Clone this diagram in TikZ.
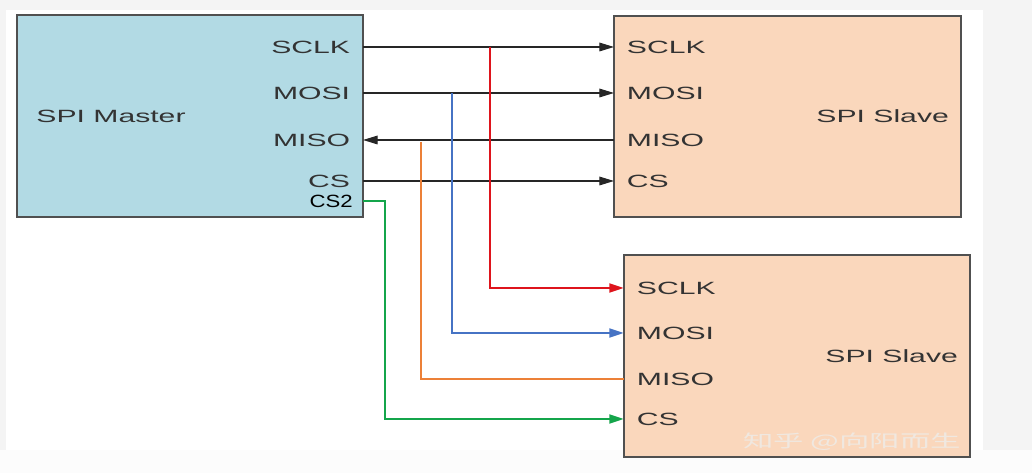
\documentclass[tikz,border=0pt]{standalone}
\usepackage{fontspec}
\newfontfamily\pinfont[FakeStretch=1.7]{Liberation Sans}
\newfontfamily\narrowfont[FakeStretch=1.25]{Liberation Sans}
\newfontfamily\cjk[FakeStretch=1.75]{Noto Sans CJK SC}
\usetikzlibrary{arrows.meta,positioning}
\usepackage{xcolor}
\definecolor{masterblue}{RGB}{178,218,228}
\definecolor{slavepeach}{RGB}{250,215,188}
\definecolor{edgegray}{RGB}{80,80,80}
\definecolor{wirered}{RGB}{222,20,28}
\definecolor{wireblue}{RGB}{70,115,196}
\definecolor{wireorange}{RGB}{236,128,56}
\definecolor{wiregreen}{RGB}{20,165,75}
\definecolor{framegray}{RGB}{244,244,244}
\definecolor{markgray}{RGB}{240,232,224}

\begin{document}
\begin{tikzpicture}[
    x=0.75pt, y=-0.75pt,
    >={Triangle[length=11pt,width=6.5pt]},
    chip/.style={rectangle, draw=edgegray, line width=1.2pt, minimum width=259.5pt, minimum height=151.5pt, inner sep=0pt},
    pinlabel/.style={font=\pinfont\fontsize{13.3}{15}\selectfont, text=black!80, inner xsep=9.5pt, inner ysep=0pt},
    chipname/.style={font=\pinfont\fontsize{13.3}{15}\selectfont, text=black!80, inner sep=0pt},
    wire/.style={line width=0.9pt, draw=black!85},
    bus/.style={line width=2pt}
]

% frame
\useasboundingbox (0,0) rectangle (1032,473);
\fill[framegray] (0,0) rectangle (1032,473);
\fill[white] (6,10) rectangle (983,450);
\fill[white!98!gray] (0,450) rectangle (1032,473);

% Chips
\node (master) [chip, fill=masterblue] at (190,116) {};
\node (s1) [chip, fill=slavepeach, minimum width=260.25pt, minimum height=150.75pt] at (787.5,116.5) {};
\node (s2) [chip, fill=slavepeach] at (797,356) {};

\node (mname) [chipname, right=15pt of master.west] {SPI Master};
\node (s1name) [chipname, left=9.5pt of s1.east] {SPI Slave};
\node (s2name) [chipname, left=9.5pt of s2.east] {SPI Slave};

% Pins
\node (mSCLK) [pinlabel, anchor=east] at (363,47) {SCLK};
\node (mMOSI) [pinlabel, anchor=east] at (363,93) {MOSI};
\node (mMISO) [pinlabel, anchor=east] at (363,140) {MISO};
\node (mCS) [pinlabel, anchor=east] at (363,181) {CS};
\node (mCS2) [pinlabel, anchor=east, inner xsep=7.5pt, font=\narrowfont\fontsize{13.3}{15}\selectfont, text=black] at (363,201) {CS2};

\node (s1SCLK) [pinlabel, anchor=west] at (614,47) {SCLK};
\node (s1MOSI) [pinlabel, anchor=west] at (614,93) {MOSI};
\node (s1MISO) [pinlabel, anchor=west] at (614,140) {MISO};
\node (s1CS) [pinlabel, anchor=west] at (614,181) {CS};

\node (s2SCLK) [pinlabel, anchor=west] at (624,288) {SCLK};
\node (s2MOSI) [pinlabel, anchor=west] at (624,333) {MOSI};
\node (s2MISO) [pinlabel, anchor=west] at (624,379) {MISO};
\node (s2CS) [pinlabel, anchor=west] at (624,419) {CS};

\node (mark) [font=\cjk\fontsize{13}{15}\selectfont, text=markgray, inner sep=0pt] at (852,442) {知乎 @向阳而生};

% Verbindungen
\draw[wire, ->] (mSCLK.east) -- (s1SCLK.west);
\draw[wire, ->] (mMOSI.east) -- (s1MOSI.west);
\draw[wire, <-] (mMISO.east) -- (s1MISO.west);
\draw[wire, ->] (mCS.east) -- (s1CS.west);

\coordinate (tapR) at (490,0);
\coordinate (tapB) at (452,0);
\coordinate (tapO) at (421,0);
\coordinate (tapG) at (385,0);

\draw[bus, wirered, ->] (mSCLK.east -| tapR) |- (s2SCLK.west);
\draw[bus, wireblue, ->] (mMOSI.east -| tapB) |- (s2MOSI.west);
\draw[bus, wireorange] ([yshift=-1.5pt]mMISO.east -| tapO) |- (s2MISO.west);
\draw[bus, wiregreen, ->] (mCS2.east) -- (mCS2.east -| tapG) |- (s2CS.west);

\end{tikzpicture}
\end{document}
